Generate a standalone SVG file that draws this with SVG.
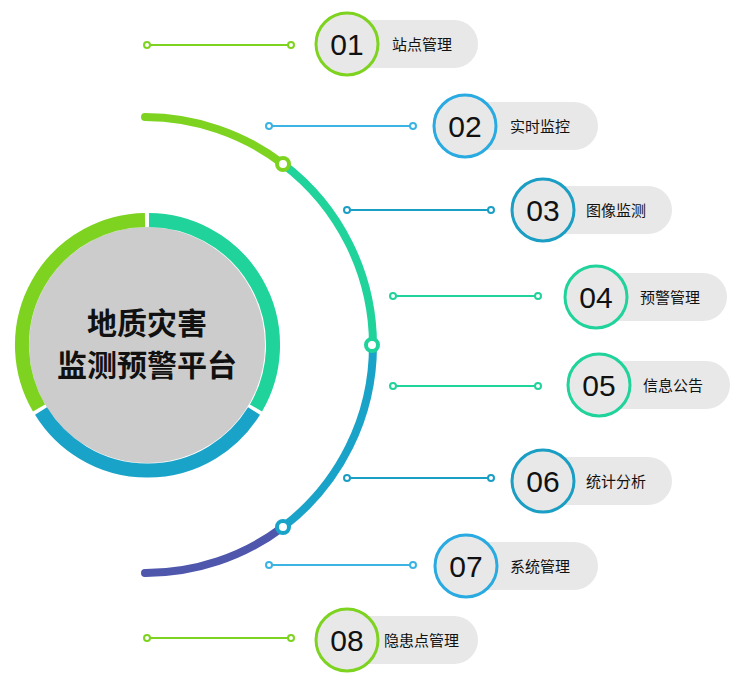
<svg xmlns="http://www.w3.org/2000/svg" width="749" height="678" viewBox="0 0 749 678">
<style>
.pill{fill:#e8e8e8}
.num{font-family:"Liberation Sans",Arial,sans-serif;font-size:30px;fill:#111;text-anchor:middle}
.lab{font-family:"Noto Sans CJK SC",sans-serif;font-size:15px;fill:#111}
.ln{stroke-width:2;fill:none}
.dt{fill:#fff;stroke-width:2}
</style>
<rect width="749" height="678" fill="#fff"/>
<g id="connectors">
<path d="M145 117 A228 228 0 0 1 283 164" stroke="#7ed321" stroke-width="8" fill="none" stroke-linecap="round"/>
<path d="M283 164 A228 228 0 0 1 373 345" stroke="#1fd39a" stroke-width="8" fill="none"/>
<path d="M373 345 A228 228 0 0 1 283 527" stroke="#1aa3c8" stroke-width="8" fill="none"/>
<path d="M283 527 A228 228 0 0 1 145 573" stroke="#4f57ad" stroke-width="8" fill="none" stroke-linecap="round"/>
<circle cx="283" cy="164" r="6" fill="#fff" stroke="#7ed321" stroke-width="4"/>
<circle cx="372" cy="345" r="6" fill="#fff" stroke="#1fd39a" stroke-width="4"/>
<circle cx="283" cy="527" r="6" fill="#fff" stroke="#1aa3c8" stroke-width="4"/>
<g stroke="#7ed321"><line class="ln" x1="147" y1="45" x2="291" y2="45"/><circle class="dt" cx="147" cy="45" r="3"/><circle class="dt" cx="291" cy="45" r="3"/></g>
<g stroke="#3bb3e3"><line class="ln" x1="269" y1="126" x2="413" y2="126"/><circle class="dt" cx="269" cy="126" r="3"/><circle class="dt" cx="413" cy="126" r="3"/></g>
<g stroke="#1a9ec4"><line class="ln" x1="347" y1="210" x2="491" y2="210"/><circle class="dt" cx="347" cy="210" r="3"/><circle class="dt" cx="491" cy="210" r="3"/></g>
<g stroke="#1fd39a"><line class="ln" x1="393" y1="296" x2="538" y2="296"/><circle class="dt" cx="393" cy="296" r="3"/><circle class="dt" cx="538" cy="296" r="3"/></g>
<g stroke="#1fd39a"><line class="ln" x1="393" y1="386" x2="538" y2="386"/><circle class="dt" cx="393" cy="386" r="3"/><circle class="dt" cx="538" cy="386" r="3"/></g>
<g stroke="#1a9ec4"><line class="ln" x1="347" y1="478" x2="491" y2="478"/><circle class="dt" cx="347" cy="478" r="3"/><circle class="dt" cx="491" cy="478" r="3"/></g>
<g stroke="#3bb3e3"><line class="ln" x1="269" y1="565" x2="413" y2="565"/><circle class="dt" cx="269" cy="565" r="3"/><circle class="dt" cx="413" cy="565" r="3"/></g>
<g stroke="#7ed321"><line class="ln" x1="147" y1="638" x2="291" y2="638"/><circle class="dt" cx="147" cy="638" r="3"/><circle class="dt" cx="291" cy="638" r="3"/></g>
</g>
<g id="center">
<circle cx="147" cy="345" r="118" fill="#cccccc"/>
<path d="M39 408 A125 125 0 0 1 145 220" stroke="#7ed321" stroke-width="14" fill="none"/>
<path d="M149 220 A125 125 0 0 1 256 408" stroke="#1fd39a" stroke-width="14" fill="none"/>
<path d="M254 411 A125 125 0 0 1 41 411" stroke="#1aa3c8" stroke-width="14" fill="none"/>
<text x="147" y="334" font-family="Noto Sans CJK SC,sans-serif" font-size="30" font-weight="bold" text-anchor="middle" fill="#111">地质灾害</text>
<text x="147" y="376" font-family="Noto Sans CJK SC,sans-serif" font-size="30" font-weight="bold" text-anchor="middle" fill="#111">监测预警平台</text>
</g>
<g id="n01"><rect class="pill" x="330" y="20" width="148" height="48" rx="24"/><circle cx="347" cy="44" r="31" fill="#e8e8e8" stroke="#7ed321" stroke-width="3"/><text class="num" x="347" y="55">01</text><text class="lab" x="392" y="50">站点管理</text></g>
<g id="n02"><rect class="pill" x="448" y="102" width="150" height="48" rx="24"/><circle cx="465" cy="126" r="31" fill="#e8e8e8" stroke="#29aae1" stroke-width="3"/><text class="num" x="465" y="137">02</text><text class="lab" x="510" y="132">实时监控</text></g>
<g id="n03"><rect class="pill" x="526" y="186" width="146" height="48" rx="24"/><circle cx="543" cy="210" r="31" fill="#e8e8e8" stroke="#1a9ec4" stroke-width="3"/><text class="num" x="543" y="221">03</text><text class="lab" x="586" y="216">图像监测</text></g>
<g id="n04"><rect class="pill" x="579" y="273" width="148" height="48" rx="24"/><circle cx="596" cy="297" r="31" fill="#e8e8e8" stroke="#1fd39a" stroke-width="3"/><text class="num" x="596" y="308">04</text><text class="lab" x="640" y="303">预警管理</text></g>
<g id="n05"><rect class="pill" x="582" y="361" width="148" height="48" rx="24"/><circle cx="599" cy="385" r="31" fill="#e8e8e8" stroke="#1fd39a" stroke-width="3"/><text class="num" x="599" y="396">05</text><text class="lab" x="643" y="391">信息公告</text></g>
<g id="n06"><rect class="pill" x="526" y="457" width="146" height="48" rx="24"/><circle cx="543" cy="481" r="31" fill="#e8e8e8" stroke="#1a9ec4" stroke-width="3"/><text class="num" x="543" y="492">06</text><text class="lab" x="586" y="487">统计分析</text></g>
<g id="n07"><rect class="pill" x="449" y="542" width="149" height="48" rx="24"/><circle cx="466" cy="566" r="31" fill="#e8e8e8" stroke="#29aae1" stroke-width="3"/><text class="num" x="466" y="577">07</text><text class="lab" x="510" y="572">系统管理</text></g>
<g id="n08"><rect class="pill" x="330" y="616" width="148" height="48" rx="24"/><circle cx="347" cy="640" r="31" fill="#e8e8e8" stroke="#7ed321" stroke-width="3"/><text class="num" x="347" y="651">08</text><text class="lab" x="384" y="646">隐患点管理</text></g>
</svg>
